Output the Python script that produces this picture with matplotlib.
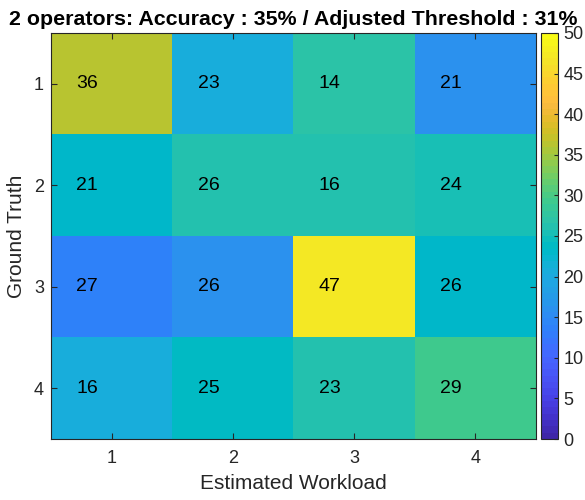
import numpy as np
import matplotlib
matplotlib.use("Agg")
import matplotlib.pyplot as plt
from matplotlib.colors import ListedColormap

# confusion matrix values (rows = ground truth, cols = estimated workload)
classes = [1, 2, 3, 4]
counts = np.array([
    [36, 23, 14, 21],
    [21, 26, 16, 24],
    [27, 26, 47, 26],
    [16, 25, 23, 29],
])
title = "2 operators: Accuracy : 35% / Adjusted Threshold : 31%"

# parula (approx)
parula_data = [
    [0.2422, 0.1504, 0.6603], [0.2504, 0.1650, 0.7076], [0.2578, 0.1818, 0.7511],
    [0.2647, 0.1978, 0.7952], [0.2706, 0.2147, 0.8364], [0.2751, 0.2342, 0.8710],
    [0.2783, 0.2559, 0.8991], [0.2803, 0.2782, 0.9221], [0.2813, 0.3006, 0.9414],
    [0.2810, 0.3228, 0.9579], [0.2795, 0.3447, 0.9717], [0.2760, 0.3667, 0.9829],
    [0.2699, 0.3892, 0.9906], [0.2602, 0.4123, 0.9952], [0.2440, 0.4358, 0.9988],
    [0.2206, 0.4603, 0.9973], [0.1963, 0.4847, 0.9892], [0.1834, 0.5074, 0.9798],
    [0.1786, 0.5289, 0.9682], [0.1764, 0.5499, 0.9520], [0.1687, 0.5703, 0.9359],
    [0.1540, 0.5902, 0.9218], [0.1460, 0.6091, 0.9079], [0.1380, 0.6276, 0.8973],
    [0.1248, 0.6459, 0.8883], [0.1113, 0.6635, 0.8763], [0.0952, 0.6798, 0.8598],
    [0.0689, 0.6948, 0.8394], [0.0297, 0.7082, 0.8163], [0.0036, 0.7203, 0.7917],
    [0.0067, 0.7312, 0.7660], [0.0433, 0.7411, 0.7394], [0.0964, 0.7500, 0.7120],
    [0.1408, 0.7584, 0.6842], [0.1717, 0.7670, 0.6554], [0.1938, 0.7758, 0.6251],
    [0.2161, 0.7843, 0.5923], [0.2470, 0.7918, 0.5567], [0.2906, 0.7973, 0.5188],
    [0.3406, 0.8008, 0.4789], [0.3909, 0.8029, 0.4354], [0.4456, 0.8024, 0.3909],
    [0.5044, 0.7993, 0.3480], [0.5616, 0.7942, 0.3045], [0.6174, 0.7876, 0.2612],
    [0.6720, 0.7793, 0.2227], [0.7242, 0.7698, 0.1910], [0.7738, 0.7598, 0.1646],
    [0.8203, 0.7498, 0.1535], [0.8634, 0.7406, 0.1596], [0.9035, 0.7330, 0.1774],
    [0.9393, 0.7288, 0.2100], [0.9728, 0.7298, 0.2394], [0.9956, 0.7434, 0.2371],
    [0.9970, 0.7659, 0.2199], [0.9952, 0.7893, 0.2028], [0.9892, 0.8136, 0.1885],
    [0.9786, 0.8386, 0.1766], [0.9676, 0.8639, 0.1643], [0.9610, 0.8890, 0.1537],
    [0.9597, 0.9135, 0.1423], [0.9628, 0.9373, 0.1265], [0.9691, 0.9606, 0.1064],
    [0.9769, 0.9839, 0.0805],
]
parula = ListedColormap(parula_data, name="parula")

plt.rcParams["font.family"] = ["Liberation Sans", "DejaVu Sans"]
dark = "#262626"

fig = plt.figure(figsize=(5.85, 5.0), dpi=100)
ax = fig.add_axes([51/585, 61/500, 485/585, 406/500])
cax = fig.add_axes([541/585, 61/500, 17/585, 406/500])

# the coloured image is the transposed matrix (as in the original figure)
im = ax.imshow(counts.T, cmap=parula, vmin=0, vmax=50, aspect="auto",
               extent=[0.5, 4.5, 4.5, 0.5], interpolation="nearest")

for i in range(len(classes)):
    for j in range(len(classes)):
        ax.text(classes[j] - 0.29, classes[i], str(counts[i, j]),
                ha="left", va="center", fontsize=14, color="black")

ax.set_xticks(classes)
ax.set_yticks(classes)
ax.tick_params(direction="in", top=True, right=True, labelsize=13,
               colors=dark, length=4)
ax.tick_params(axis="x", pad=8)
ax.tick_params(axis="y", pad=5)
for s in ax.spines.values():
    s.set_color(dark)
    s.set_linewidth(0.8)
ax.set_xlabel("Estimated Workload", fontsize=15, color=dark, labelpad=5)
ax.set_ylabel("Ground Truth", fontsize=15, color=dark, labelpad=6)
ax.set_title(title, fontsize=15.4, fontweight="bold", pad=6)

cb = fig.colorbar(im, cax=cax, ticks=range(0, 51, 5))
cb.ax.tick_params(labelsize=13, colors=dark, length=3, direction="in", pad=4)
cb.outline.set_edgecolor(dark)
cb.outline.set_linewidth(0.8)

fig.savefig("out.png", dpi=100)
